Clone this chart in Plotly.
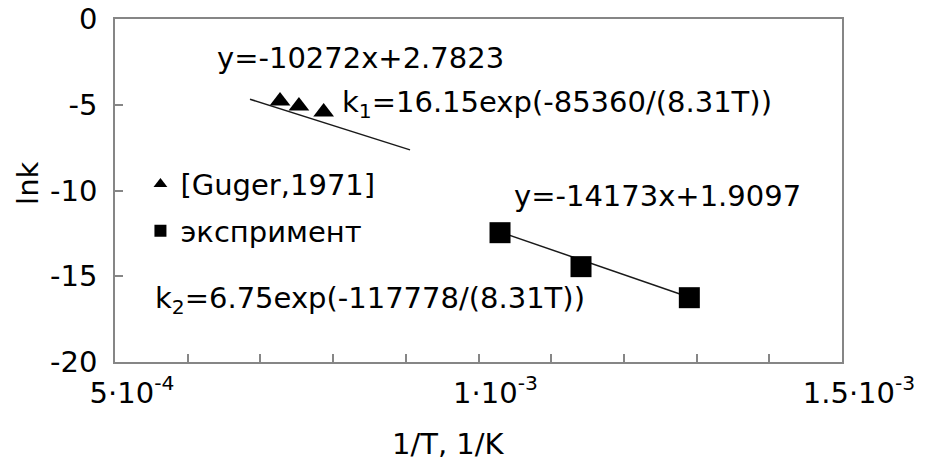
import plotly.graph_objects as go

# ---- data ----
guger_x = [7.27e-4, 7.53e-4, 7.87e-4]
guger_y = [-4.78, -5.08, -5.43]

exp_x = [1.0296e-3, 1.141e-3, 1.290e-3]
exp_y = [-12.46, -14.44, -16.25]

trend1_x = [6.857e-4, 9.058e-4]
trend1_y = [-4.68, -7.63]

trend2_x = [1.0296e-3, 1.290e-3]
trend2_y = [-12.42, -16.22]

x_tick_vals = [5e-4, 1e-3, 1.5e-3]
x_tick_text = ["5·10<sup>-4</sup>", "1·10<sup>-3</sup>", "1.5·10<sup>-3</sup>"]
x_minor_vals = [6e-4, 7e-4, 8e-4, 9e-4, 1.1e-3, 1.2e-3, 1.3e-3, 1.4e-3]
y_tick_vals = [0, -5, -10, -15, -20]
y_tick_text = ["0", "-5", "-10", "-15", "-20"]

series_names = ["[Guger,1971]", "экспримент"]

FONT = "DejaVu Sans"
FS = 29
AXIS_COLOR = "#868686"

fig = go.Figure()

fig.add_trace(go.Scatter(x=trend1_x, y=trend1_y, mode="lines",
                         line=dict(color="#1a1a1a", width=1.5), showlegend=False, hoverinfo="skip"))
fig.add_trace(go.Scatter(x=trend2_x, y=trend2_y, mode="lines",
                         line=dict(color="#1a1a1a", width=1.5), showlegend=False, hoverinfo="skip"))

fig.add_trace(go.Scatter(x=guger_x, y=guger_y, mode="markers", name=series_names[0],
                         legendgroup="a",
                         marker=dict(symbol="triangle-up", size=18, color="black", line=dict(width=0))))
fig.add_trace(go.Scatter(x=exp_x, y=exp_y, mode="markers", name=series_names[1],
                         legendgroup="b",
                         marker=dict(symbol="square", size=21, color="black", line=dict(width=0))))

annotations = [
    dict(x=6.376e-4, y=-2.28, text="y=-10272x+2.7823"),
    dict(x=8.095e-4, y=-4.96, text="k<sub>1</sub>=16.15exp(-85360/(8.31T))"),
    dict(x=1.0461e-3, y=-10.32, text="y=-14173x+1.9097"),
    dict(x=5.523e-4, y=-16.38, text="k<sub>2</sub>=6.75exp(-117778/(8.31T))"),
]
for a in annotations:
    fig.add_annotation(x=a["x"], y=a["y"], xref="x", yref="y", text=a["text"],
                       showarrow=False, xanchor="left", yanchor="middle",
                       font=dict(family=FONT, size=FS, color="black"))

fig.add_annotation(x=0.459, y=-0.238, xref="paper", yref="paper", text="1/T, 1/K",
                   showarrow=False, xanchor="center", yanchor="middle",
                   font=dict(family=FONT, size=FS, color="black"))
fig.add_annotation(x=-0.1197, y=0.522, xref="paper", yref="paper", text="lnk", textangle=-90,
                   showarrow=False, xanchor="center", yanchor="middle",
                   font=dict(family=FONT, size=FS, color="black"))

fig.update_layout(
    width=927, height=461,
    margin=dict(l=115, r=85, t=19, b=99, autoexpand=False),
    paper_bgcolor="white", plot_bgcolor="white",
    font=dict(family=FONT, size=FS, color="black"),
    showlegend=True,
    legend=dict(x=0.035, y=0.593, xanchor="left", yanchor="top",
                bgcolor="rgba(0,0,0,0)", borderwidth=0,
                font=dict(family=FONT, size=FS, color="black"),
                itemsizing="constant", traceorder="grouped", tracegroupgap=6),
    xaxis=dict(range=[5e-4, 1.5e-3], tickmode="array", tickvals=x_tick_vals, ticktext=x_tick_text,
               ticks="inside", ticklen=8, tickcolor=AXIS_COLOR, tickwidth=1.5,
               minor=dict(tickmode="array", tickvals=x_minor_vals, ticks="inside", ticklen=8,
                          tickcolor=AXIS_COLOR, tickwidth=1.5, showgrid=False),
               showline=True, linecolor=AXIS_COLOR, linewidth=1.5, mirror=True, automargin=False,
               showgrid=False, zeroline=False, ticklabelshift=17, ticklabelstandoff=4,
               tickfont=dict(family=FONT, size=FS, color="black")),
    yaxis=dict(range=[-20, 0], tickmode="array", tickvals=y_tick_vals, ticktext=y_tick_text,
               ticks="inside", ticklen=8, tickcolor=AXIS_COLOR, tickwidth=1.5,
               showline=True, linecolor=AXIS_COLOR, linewidth=1.5, mirror=True, automargin=False,
               showgrid=False, zeroline=False, ticklabelstandoff=10,
               tickfont=dict(family=FONT, size=FS, color="black")),
)

fig.write_html("out.html")
